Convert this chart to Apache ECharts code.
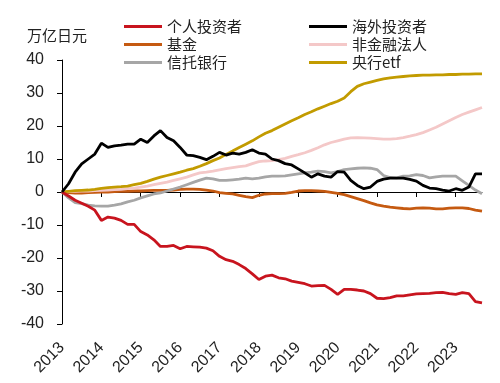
<!DOCTYPE html>
<html><head><meta charset="utf-8">
<script src="https://cdn.jsdelivr.net/npm/echarts@6/dist/echarts.min.js"></script>
<style>html,body{margin:0;padding:0;background:#fff}#c{width:500px;height:383px}</style>
</head><body><div id="c"></div>
<script>
// bi-monthly observation months
var months = ['2013-01','2013-03','2013-05','2013-07','2013-09','2013-11',
'2014-01','2014-03','2014-05','2014-07','2014-09','2014-11',
'2015-01','2015-03','2015-05','2015-07','2015-09','2015-11',
'2016-01','2016-03','2016-05','2016-07','2016-09','2016-11',
'2017-01','2017-03','2017-05','2017-07','2017-09','2017-11',
'2018-01','2018-03','2018-05','2018-07','2018-09','2018-11',
'2019-01','2019-03','2019-05','2019-07','2019-09','2019-11',
'2020-01','2020-03','2020-05','2020-07','2020-09','2020-11',
'2021-01','2021-03','2021-05','2021-07','2021-09','2021-11',
'2022-01','2022-03','2022-05','2022-07','2022-09','2022-11',
'2023-01','2023-03','2023-05','2023-07','2023-09'];
var yearLabels = [2013,2014,2015,2016,2017,2018,2019,2020,2021,2022,2023];
var yTicks = [-40,-30,-20,-10,0,10,20,30,40];

var individuals = [0,-1.2,-2.5,-3.4,-4.3,-5.5,-8.6,-7.6,-7.9,-8.6,-9.8,-9.8,
-12,-13,-14.5,-16.5,-16.5,-16.2,-17.2,-16.5,-16.6,-16.7,-17,-17.8,
-19.5,-20.5,-21,-22,-23.2,-24.8,-26.5,-25.5,-25.2,-26,-26.3,-27,
-27.4,-27.8,-28.5,-28.4,-28.3,-29.5,-31,-29.5,-29.5,-29.7,-30,-30.8,
-32.2,-32.3,-32,-31.5,-31.5,-31.2,-30.9,-30.8,-30.7,-30.5,-30.4,-30.8,
-31,-30.5,-30.8,-33.2,-33.6];
var foreigners = [0,2.5,6,8.5,10,11.5,14.8,13.5,14,14.2,14.5,14.5,
16,15,17,18.6,16.5,15.5,13.5,11.2,11,10.5,9.8,10.8,
12,11.2,11.8,11.5,12,12.8,11.8,11.5,10,9.5,8.6,8.2,
7,5.8,4.5,5.5,4.8,4.5,6.2,6,3.5,2,1,1.5,
3.2,3.9,4.2,4.2,4.2,3.8,3.3,2,1.2,1,0.6,0.3,
1,0.5,1.5,5.5,5.5];
var funds = [0,-0.2,-0.3,-0.3,-0.2,-0.1,0,0,0.1,0.2,0.2,0.3,
0.3,0.4,0.5,0.5,0.5,0.6,0.8,0.9,0.9,0.8,0.6,0.3,
-0.2,-0.4,-0.6,-1,-1.4,-1.7,-1,-0.6,-0.5,-0.5,-0.4,-0.1,
0.3,0.4,0.4,0.3,0.2,-0.1,-0.4,-0.8,-1.4,-2,-2.6,-3.3,
-3.9,-4.3,-4.6,-4.8,-5,-5.1,-4.9,-4.8,-4.9,-5.1,-5.1,-4.9,
-4.8,-4.8,-5,-5.5,-5.8];
var corporates = [0,0.1,0.2,0.3,0.3,0.4,0.5,0.6,0.7,0.8,1,1.2,
1.5,1.8,2.2,2.6,3,3.5,4,4.5,5.2,5.8,6,6.3,
6.7,7.1,7.4,7.7,7.9,8.6,9.2,9.4,9.5,9.8,10.2,10.8,
11.3,11.9,12.6,13.4,14.3,15,15.5,16,16.4,16.5,16.4,16.3,
16.2,16,16,16.2,16.5,16.9,17.4,18,18.8,19.6,20.6,21.6,
22.6,23.5,24.2,24.9,25.6];
var trustBanks = [0,-1.8,-3.2,-3.5,-4,-4.2,-4.3,-4.3,-4,-3.6,-3,-2.5,
-1.8,-1.2,-0.6,-0.3,0.3,0.9,1.5,2.2,2.9,3.6,4.2,4,
3.5,3.5,3.7,3.9,4.2,4,4.2,4.6,4.8,4.8,4.9,5.2,
5.5,5.8,6,6.3,6.2,5.8,6.2,6.8,7,7.2,7.3,7.2,
6.8,5,4.4,4.3,4.8,4.9,5.3,5,4.3,4.6,4.8,4.8,
4.8,3.4,2,0.6,-0.5];
var bojEtf = [0,0.2,0.4,0.5,0.6,0.8,1.1,1.3,1.5,1.6,1.8,2.2,
2.6,3.2,3.9,4.5,5,5.5,6,6.6,7.1,7.8,8.6,9.5,
10.3,11.4,12.4,13.5,14.5,15.5,16.7,17.8,18.6,19.6,20.6,21.6,
22.5,23.5,24.3,25.2,26,26.8,27.5,28.5,30.4,32,32.8,33.3,
33.8,34.3,34.6,34.8,35,35.2,35.3,35.4,35.4,35.5,35.5,35.6,
35.6,35.7,35.7,35.8,35.8];

var names = ['个人投资者','海外投资者','基金','非金融法人','信托银行','央行etf'];
var colors = ['#c8141e','#000000','#c55a11','#f4c8c8','#a6a6a6','#c29b00'];
var values = [individuals, foreigners, funds, corporates, trustBanks, bojEtf];

var xs = months.map(function(m){var p=m.split('-');return +p[0]+(+p[1]-1)/12;});
var xMin = 2013, xMax = xs[xs.length-1];

var chart = echarts.init(document.getElementById('c'), null, {renderer:'canvas'});
var order = [2,4,3,5,0,1]; // draw order
var series = order.map(function(i){
  return {
    name: names[i], type:'line', xAxisIndex:0, yAxisIndex:0,
    data: xs.map(function(x,k){return [x, values[i][k]];}),
    showSymbol:false, symbol:'none', smooth:false,
    lineStyle:{color:colors[i], width:2.8}, itemStyle:{color:colors[i]}
  };
});
var legendText = {color:'#222', fontSize:15, fontFamily:'"Noto Sans CJK SC", sans-serif'};
chart.setOption({
  animation:false,
  backgroundColor:'#fff',
  title:{text:'万亿日元', left:22, top:23, textStyle:{fontSize:15, fontWeight:'normal', color:'#222', fontFamily:'"Noto Sans CJK SC", sans-serif'}},
  legend:[
    {data:[names[0],names[2],names[4]], orient:'vertical', left:119, top:14, itemWidth:38, itemHeight:3, itemGap:3, icon:'rect', textStyle:legendText},
    {data:[names[1],names[3],names[5]], orient:'vertical', left:304, top:14, itemWidth:38, itemHeight:3, itemGap:3, icon:'rect', textStyle:legendText}
  ],
  grid:{left:62, right:18, top:60, bottom:59, containLabel:false},
  xAxis:[
    {type:'value', min:xMin, max:xMax, interval:1, position:'bottom',
     axisLine:{show:true, onZero:true, lineStyle:{color:'#000', width:1}},
     axisTick:{show:true, length:5, inside:false, customValues:yearLabels, lineStyle:{color:'#000'}},
     axisLabel:{show:false}, splitLine:{show:false}},
    {type:'value', min:xMin, max:xMax, interval:1, position:'bottom',
     axisLine:{show:false, onZero:false}, axisTick:{show:false},
     axisLabel:{show:true, rotate:45, margin:21, customValues:yearLabels, fontSize:16, color:'#222', fontFamily:'"Liberation Sans", Arial, sans-serif',
       formatter:function(v){return String(Math.round(v));}},
     splitLine:{show:false}}
  ],
  yAxis:{type:'value', min:yTicks[0], max:yTicks[yTicks.length-1], interval:10,
    axisLine:{show:true, lineStyle:{color:'#000', width:1}},
    axisTick:{show:true, length:5, lineStyle:{color:'#000'}},
    axisLabel:{margin:18, fontSize:16, color:'#222', fontFamily:'"Liberation Sans", Arial, sans-serif'},
    splitLine:{show:false}},
  series:series
});
</script></body></html>
